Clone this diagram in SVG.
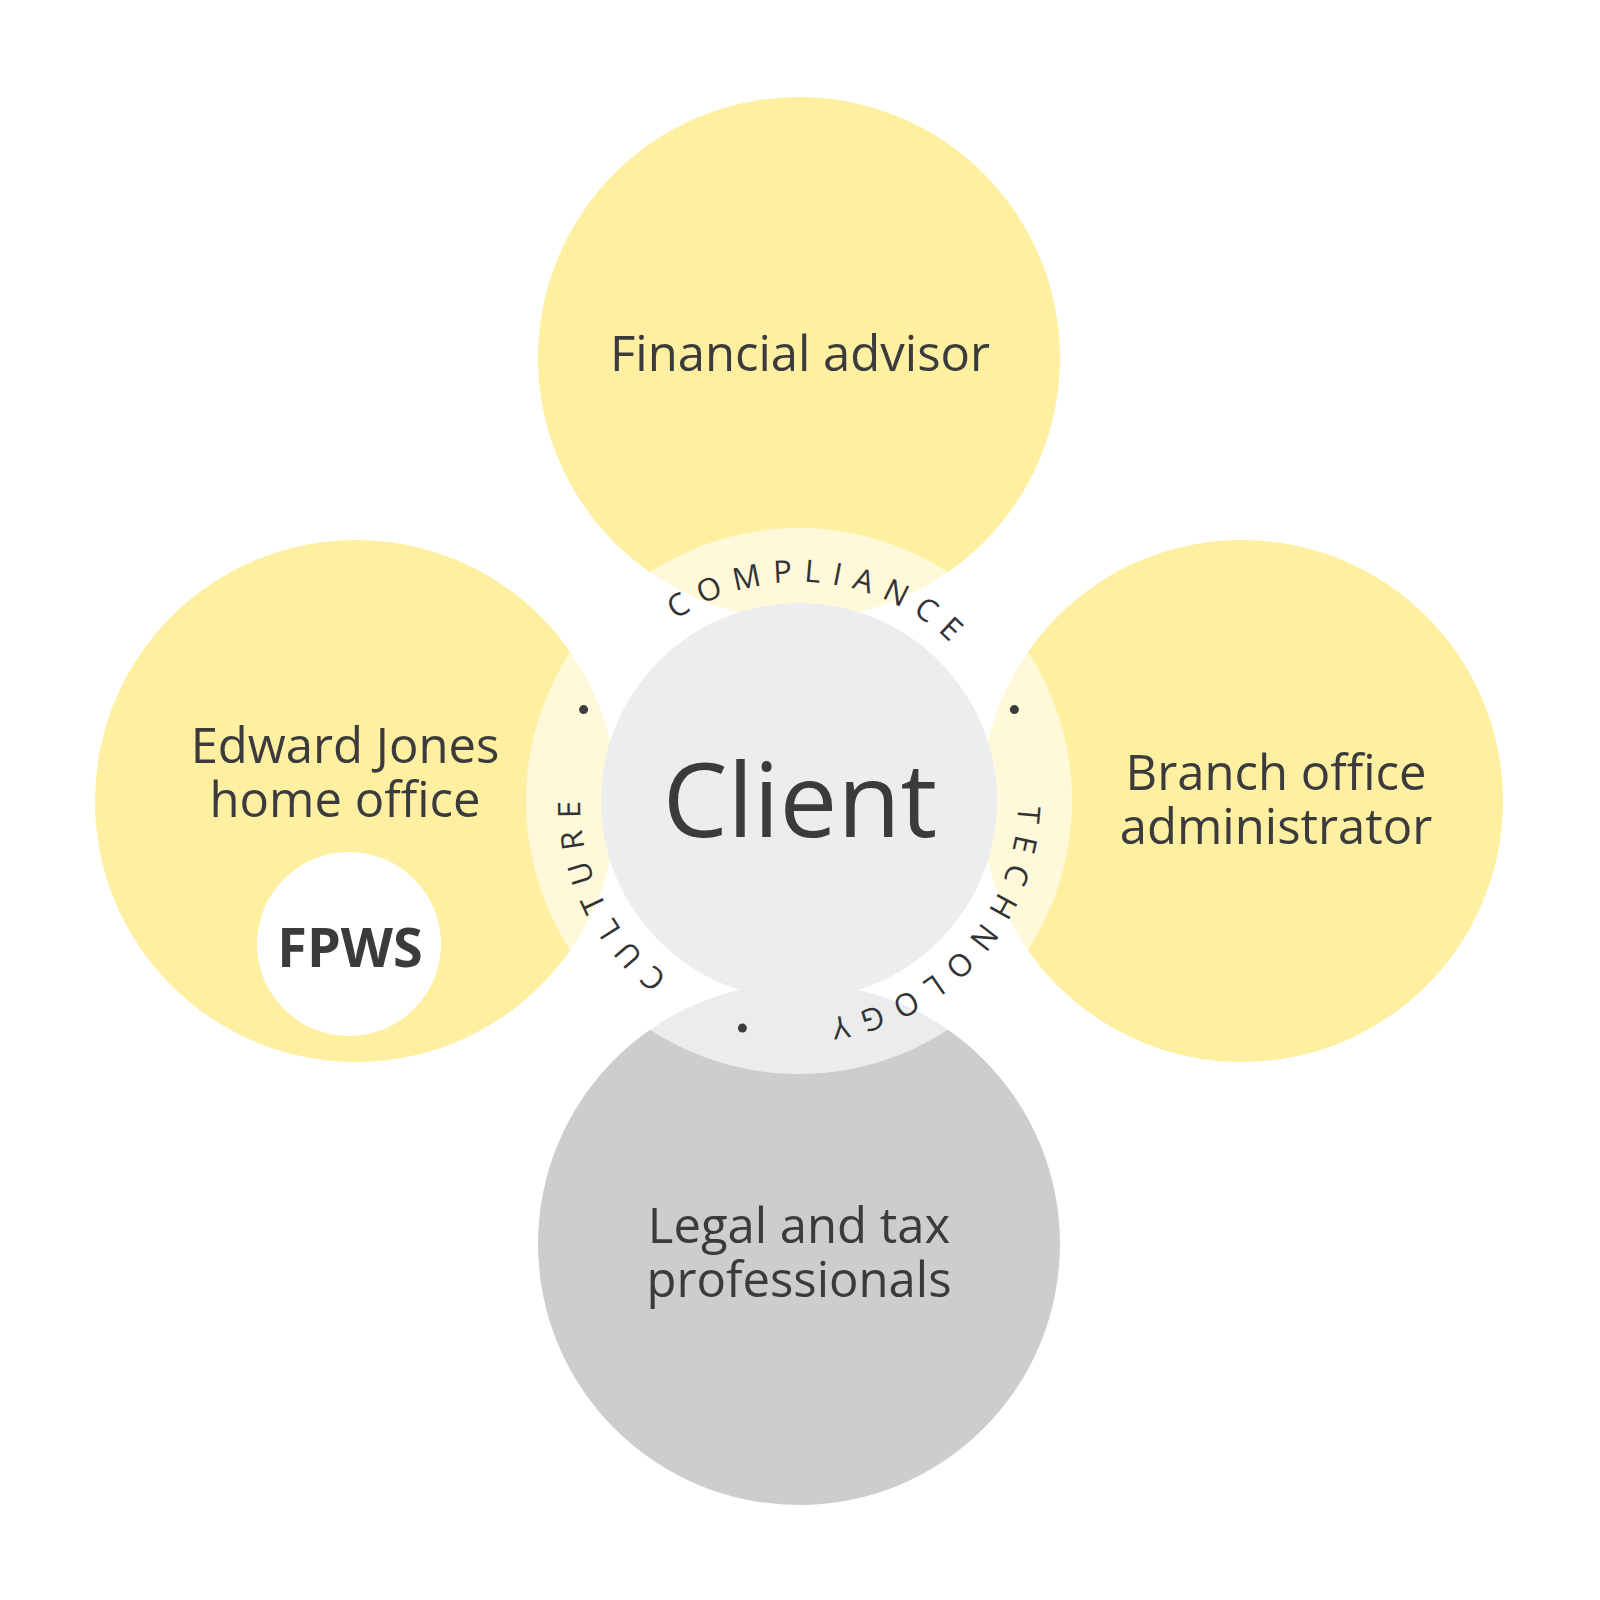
<svg xmlns="http://www.w3.org/2000/svg" width="1600" height="1600" viewBox="0 0 1600 1600">
<style>
.lbl{font-family:"Open Sans","Noto Sans","Liberation Sans",sans-serif;font-size:49px;fill:#3b3b3e;text-anchor:middle}
.ring{font-family:"Open Sans","Noto Sans","Liberation Sans",sans-serif;font-size:31px;fill:#333336;letter-spacing:11.5px;text-anchor:middle}
.yel{fill:#fef0a0}
.dot{fill:#3b3b3e}
</style>
<defs>
<path id="arc" d="M 1018 801 A 219 219 0 1 1 580 801 A 219 219 0 1 1 1018 801"/>
</defs>
<rect width="1600" height="1600" fill="#ffffff"/>
<g id="financial-advisor">
<circle class="yel" cx="799" cy="358" r="261"/>
<text class="lbl" x="800" y="371">Financial advisor</text>
</g>
<g id="home-office">
<circle class="yel" cx="356" cy="801" r="261"/>
<text class="lbl" x="345" y="763">Edward Jones</text>
<text class="lbl" x="345" y="817">home office</text>
</g>
<g id="fpws">
<circle cx="349" cy="944" r="92" fill="#ffffff"/>
<text x="350" y="967" font-family="'Open Sans','Noto Sans','Liberation Sans',sans-serif" font-size="54" font-weight="700" fill="#3b3b3e" text-anchor="middle">FPWS</text>
</g>
<g id="branch-office">
<circle class="yel" cx="1242" cy="801" r="261"/>
<text class="lbl" x="1276" y="790">Branch office</text>
<text class="lbl" x="1276" y="844">administrator</text>
</g>
<g id="legal-tax">
<circle cx="799" cy="1244" r="261" fill="#cccdcf"/>
<text class="lbl" x="799" y="1243">Legal and tax</text>
<text class="lbl" x="799" y="1297">professionals</text>
</g>
<g id="ring-band">
<circle cx="799" cy="801" r="273" fill="#ffffff" fill-opacity="0.61"/>
<text class="ring"><textPath href="#arc" startOffset="164">TECHNOLOGY</textPath></text>
<text class="ring"><textPath href="#arc" startOffset="592">CULTURE</textPath></text>
<text class="ring"><textPath href="#arc" startOffset="1055">COMPLIANCE</textPath></text>
<circle class="dot" cx="1014.4" cy="709.6" r="4.5"/>
<circle class="dot" cx="583.6" cy="709.6" r="4.5"/>
<circle class="dot" cx="742.4" cy="1028.1" r="4.5"/>
</g>
<g id="client">
<circle cx="799" cy="801" r="198" fill="#ecedee"/>
<text x="800" y="837" font-family="'Open Sans','Noto Sans','Liberation Sans',sans-serif" font-size="103" fill="#3b3b3e" text-anchor="middle">Client</text>
</g>
<g id="connectors"></g>
</svg>
